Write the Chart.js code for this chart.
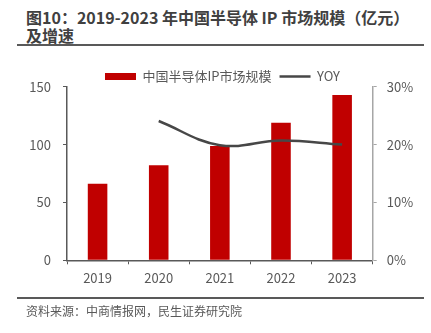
<!DOCTYPE html>
<html>
<head>
<meta charset="utf-8">
<script src="https://cdn.jsdelivr.net/npm/chart.js@4.4.1/dist/chart.umd.min.js"></script>
<style>
  html, body { margin: 0; padding: 0; background: #fff; }
  body { width: 431px; height: 333px; position: relative; overflow: hidden; font-family: "Noto Sans CJK SC", "Noto Sans", sans-serif; }
  #title { position: absolute; left: 26px; top: 9px; font-size: 16px; font-weight: bold; line-height: 17.5px; color: #404040; white-space: nowrap; }
  .rule { position: absolute; left: 17px; width: 407px; height: 2px; background: #595959; }
  #source { position: absolute; left: 26px; top: 302px; font-size: 12px; color: #595959; white-space: nowrap; }
  #wrap { position: absolute; left: 0; top: 0; width: 431px; height: 333px; }
</style>
</head>
<body>
<div id="title">图10：2019-2023 年中国半导体 IP 市场规模（亿元）<br>及增速</div>
<div class="rule" style="top:44px"></div>
<div id="wrap"><canvas id="chart"></canvas></div>
<div class="rule" style="top:297px"></div>
<div id="source">资料来源：中商情报网，民生证券研究院</div>
<script>
const years = ["2019", "2020", "2021", "2022", "2023"];
const marketSize = [66.2, 82.1, 98.8, 118.9, 142.9];   // 亿元
const yoy = [null, 0.2407, 0.199, 0.207, 0.200];
const sizeLabel = "中国半导体IP市场规模";
const yoyLabel = "YOY";

const tickFont = { family: "Noto Sans CJK SC", size: 13 };
const tickColor = "#595959";

// pull the plot area up closer to the legend
const legendMargin = {
  id: "legendMargin",
  beforeInit(chart) {
    const fit = chart.legend.fit;
    chart.legend.fit = function () {
      fit.bind(chart.legend)();
      this.height -= 6.3;
    };
  },
};

new Chart(document.getElementById("chart"), {
  type: "bar",
  data: {
    labels: years,
    datasets: [
      {
        label: sizeLabel,
        data: marketSize,
        backgroundColor: "#C00000",
        borderWidth: 0,
        categoryPercentage: 1,
        barPercentage: 0.32,
        yAxisID: "y",
        order: 1,
        pointStyle: "rect",
      },
      {
        type: "line",
        label: yoyLabel,
        data: yoy,
        borderColor: "#474747",
        backgroundColor: "#474747",
        borderWidth: 2.5,
        pointRadius: 0,
        tension: 0.4,
        yAxisID: "y1",
        order: 0,
        pointStyle: "line",
      },
    ],
  },
  options: {
    responsive: true,
    maintainAspectRatio: false,
    animation: false,
    layout: { padding: { left: 14, right: 0, top: 62, bottom: 0 } },
    plugins: {
      legend: {
        display: true,
        position: "top",
        labels: {
          usePointStyle: true,
          pointStyleWidth: 31,
          boxHeight: 7,
          padding: 8,
          color: tickColor,
          font: tickFont,
          sort: (a, b) => a.datasetIndex - b.datasetIndex,
        },
      },
      tooltip: { enabled: false },
    },
    scales: {
      x: {
        offset: true,
        grid: {
          offset: true,
          drawOnChartArea: false,
          drawTicks: true,
          tickLength: 4,
          tickColor: "#595959",
        },
        border: { color: "#595959", width: 1.5 },
        ticks: { color: tickColor, font: tickFont, padding: 6 },
        afterFit: (scale) => { scale.height = 72.7; },
      },
      y: {
        position: "left",
        min: 0,
        max: 150,
        ticks: { stepSize: 50, color: tickColor, font: tickFont, padding: 12 },
        grid: { drawOnChartArea: false, tickLength: 4, tickColor: "#595959" },
        border: { color: "#595959", width: 1.5 },
        afterFit: (scale) => { scale.width = 53; },
      },
      y1: {
        position: "right",
        min: 0,
        max: 0.3,
        ticks: {
          stepSize: 0.1,
          color: tickColor,
          font: tickFont,
          padding: 10,
          callback: (v) => Math.round(v * 100) + "%",
        },
        grid: { drawOnChartArea: false, tickLength: 4, tickColor: "#a6a6a6" },
        border: { color: "#a6a6a6", width: 1.5 },
        afterFit: (scale) => { scale.width = 58.3; },
      },
    },
  },
  plugins: [legendMargin],
});
</script>
</body>
</html>
